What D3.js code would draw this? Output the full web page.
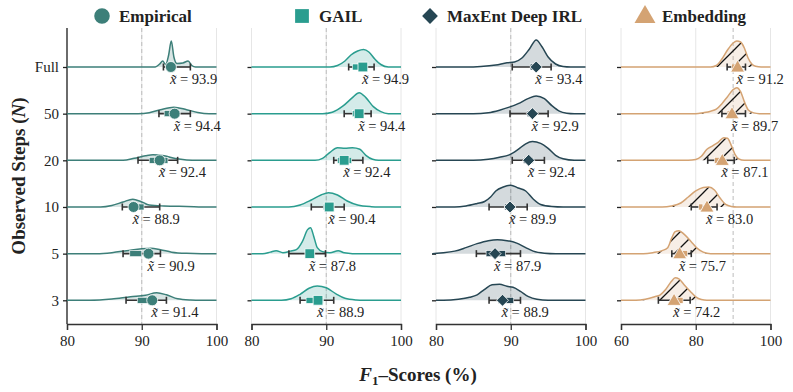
<!DOCTYPE html>
<html>
<head>
<meta charset="utf-8">
<script src="https://cdn.jsdelivr.net/npm/d3@7"></script>
<style>
  body { margin: 0; background: white; }
  text { font-family: "Liberation Serif", "DejaVu Serif", serif; }
</style>
</head>
<body>
<script>
// rows, top to bottom
const rowLabels = ["Full", "50", "20", "10", "5", "3"];
const methods = ["Empirical", "GAIL", "MaxEnt Deep IRL", "Embedding"];
const colors = ["#3d7f79", "#2a9d8f", "#264653", "#d4a373"];
const domains = [[80, 100], [80, 100], [80, 100], [60, 100]];
const tickVals = [[80, 90, 100], [80, 90, 100], [80, 90, 100], [60, 80, 100]];
const refLine = 90;

// medians (label values) and error bars
const medians = [
  [93.9, 94.4, 92.4, 88.9, 90.9, 91.4],
  [94.9, 94.4, 92.4, 90.4, 87.8, 88.9],
  [93.4, 92.9, 92.4, 89.9, 87.9, 88.9],
  [91.2, 89.7, 87.1, 83.0, 75.7, 74.2]
];
const whiskLo = [
  [92.9, 92.3, 89.5, 87.4, 87.5, 87.9],
  [93.0, 92.4, 91.0, 88.0, 85.0, 86.5],
  [90.2, 89.9, 90.2, 87.1, 85.4, 87.1],
  [88.4, 87.0, 83.2, 78.8, 73.6, 70.0]
];
const whiskHi = [
  [96.5, 96.5, 94.8, 92.4, 92.5, 93.3],
  [96.4, 96.0, 94.9, 92.4, 89.9, 91.0],
  [95.4, 95.0, 94.5, 92.2, 91.3, 91.3],
  [93.3, 93.3, 90.3, 85.7, 78.8, 78.5]
];
const boxLo = [
  [93.5, 93.0, 91.0, 88.8, 88.4, 89.4],
  [93.5, 93.5, 91.5, 89.6, 87.2, 87.3],
  [92.6, 92.2, 91.7, 89.2, 86.7, 88.3],
  [89.6, 88.4, 85.0, 80.8, 76.0, 75.0]
];
const boxHi = [
  [94.3, 95.1, 93.5, 90.3, 90.0, 90.9],
  [95.4, 94.7, 93.4, 90.7, 88.3, 89.6],
  [93.9, 93.3, 93.0, 90.5, 89.3, 90.4],
  [91.0, 89.7, 86.4, 81.9, 77.8, 76.6]
];

// density curves: [score, height]
const densEmpirical = [
  [[91.8,0],[92.4,3],[92.8,6],[93.2,2.5],[93.6,12],[93.95,26],[94.3,10],[94.7,3.5],[95.5,4],[96.2,6],[96.7,1.5],[97.2,0]],
  [[89.5,0],[91,1],[92.5,4],[94.3,6.5],[96,4],[97.5,1.2],[99,0]],
  [[87.5,0],[89,2],[90.5,4.5],[91.5,5.5],[93,4.5],[94.5,1.8],[96,0.4],[97.5,0]],
  [[84.5,0],[86,1.5],[87.5,5],[88.8,7.8],[90,5],[91,2],[93,1],[96,0.5],[99,0]],
  [[84,0],[86,1],[88,3],[90,5],[91.2,5.5],[92.5,4],[94,1.5],[96,0.3],[98,0]],
  [[83,0],[86,1.2],[88.5,3.5],[90.5,5],[92,7.5],[93.3,5.5],[94.8,1.5],[96.5,0.3],[98,0]]
];
const densGAIL = [
  [[90.5,0],[91.5,1.5],[92.5,6],[93.3,12],[94.2,16],[95,17.5],[95.7,15],[96.5,8],[97.3,2.5],[98.3,0]],
  [[89.5,0],[90.8,1.5],[92.3,8],[93.5,16],[94.4,21],[95.3,16],[96.3,7],[97.3,2],[98.3,0]],
  [[88.5,0],[89.5,2],[90.5,8],[91.5,12.5],[92.5,12],[93.5,12.5],[94.5,11],[95.3,5],[96.2,1],[97,0]],
  [[85,0],[86.5,2],[88,7],[89.3,12],[90.3,14.3],[91.5,12],[92.8,6],[94.2,2],[96,0.3],[97,0]],
  [[81.5,0],[82.5,1.5],[83.3,3],[84.2,1],[85.2,2.5],[86,4],[86.8,12],[87.5,24],[87.9,26],[88.3,18],[88.8,6],[89.5,2],[90.5,0.8],[91.6,3],[92.4,0.8],[93.5,0]],
  [[84,0],[85.3,1.5],[86.5,6],[87.7,12],[88.8,14.3],[90,12.5],[91.3,6.5],[92.5,2],[94,0.3],[95,0]]
];
const densMaxEnt = [
  [[84,0],[86,0.5],[88,2],[89.5,4.2],[90.5,5],[91.5,9],[92.5,18],[93.4,27],[94.2,20],[95,10],[96,3],[97,0.5],[98,0]],
  [[85,0],[87,1],[88.5,3.5],[89.8,6.5],[91,10],[92.3,15],[93.4,17.7],[94.5,15],[95.5,8],[96.5,2.5],[97.5,0.5],[98.5,0]],
  [[85,0],[87,1],[88.5,3],[89.8,5.5],[91,11],[92,16.5],[92.9,18.7],[94,17],[95,12],[96,5],[97,1.5],[98.5,0]],
  [[82.5,0],[84,1],[85.5,3.5],[86.5,5.5],[87.3,10],[88,16],[89,20],[90,21.7],[91,19],[92,16],[93,8],[94,2.5],[95.5,0.5],[97,0]],
  [[79.5,0],[81,0.8],[82.5,2.5],[84,6],[85.5,10],[87,13],[88.2,14],[89.5,13],[90.8,10.5],[92,6],[93,2.5],[94.5,0.5],[96,0]],
  [[81,0],[83,1],[84.5,3],[85.5,5.5],[86.5,11],[87.5,15.5],[88.5,16],[89.5,14],[90.3,13],[91.3,9],[92.3,4],[93.5,1],[95,0]]
];
const densEmbedding = [
  [[84,0],[85.5,1.5],[87,8],[88.5,17],[90,24],[91,26],[92,25],[93,19],[94,9],[95,3],[96,0.8],[97.5,0]],
  [[80,0],[82,1],[84,2.5],[85.5,4.5],[87,10],[88.5,17],[90,24],[91,26],[92,22],[93,12],[94,4],[95.5,0.8],[97,0]],
  [[78,0],[80,0.8],[81.5,4],[83,11],[84.5,14.5],[86,18],[87.5,22.5],[88.5,22],[89.5,15],[90.5,6],[91.5,1.5],[93,0]],
  [[71,0],[73.5,1],[76,4],[78,10],[80,16],[82,19.5],[83.5,20],[85,17],[86.5,9],[88,2.5],[89.5,0.5],[91,0]],
  [[66,0],[68.5,1],[71,3],[72.5,6],[73.5,15],[74.5,22],[75.5,23],[77,19],[79,11],[80.5,5],[82,1.5],[84,0]],
  [[64,0],[66.5,1],[69,3.5],[70.5,5.5],[72,11],[73.5,19],[74.5,22.5],[75.5,21.5],[77,15],[78.5,9],[80,3.5],[81.5,0.8],[83,0]]
];
const densities = [densEmpirical, densGAIL, densMaxEnt, densEmbedding];

function main(){
    const width = 793, height = 392;
    const panelLeft = [67, 251.5, 436, 621];
    const panelW = 149.5;
    const top = 28, axisY = 324;

    const svg = d3.select("body").append("svg")
        .attr("width", width).attr("height", height)
        .style("background", "white");

    const defs = svg.append("defs");
    const hatch = defs.append("pattern")
        .attr("id", "hatch")
        .attr("patternUnits", "userSpaceOnUse")
        .attr("width", 16).attr("height", 16);
    hatch.append("path")
        .attr("d", "M-4,4 L4,-4 M0,16 L16,0 M12,20 L20,12")
        .attr("stroke", "#111").attr("stroke-width", 1.3);

    const y = d3.scaleLinear().domain([0, rowLabels.length - 1]).range([67, 300.3]);
    const h = d3.scaleLinear().domain([0, 1]).range([0, 1]);

    // diamond = square turned by 45 degrees (as matplotlib's "D")
    const markerSym = [d3.symbolCircle, d3.symbolSquare, d3.symbolSquare, d3.symbolTriangle];
    const markerRot = [0, 0, 45, 0];
    const markerSize = [95, 95, 72, 85];
    const legendSize = [190, 190, 125, 190];

    methods.forEach((m, k) => {
        const x = d3.scaleLinear().domain(domains[k]).range([panelLeft[k], panelLeft[k] + panelW]);
        const g = svg.append("g");
        const col = colors[k];

        // grid
        g.selectAll(".grid").data(tickVals[k]).enter().append("line")
            .attr("x1", d => x(d)).attr("x2", d => x(d))
            .attr("y1", top).attr("y2", axisY)
            .attr("stroke", "#e6e6e6").attr("stroke-width", 1);
        g.append("line")
            .attr("x1", x(refLine)).attr("x2", x(refLine))
            .attr("y1", top).attr("y2", axisY)
            .attr("stroke", "#bdbdbd").attr("stroke-width", 1)
            .attr("stroke-dasharray", "4,3");

        // bottom axis
        const ax = g.append("g")
            .attr("transform", `translate(0,${axisY})`)
            .call(d3.axisBottom(x).tickValues(tickVals[k]).tickSize(6).tickPadding(5));
        ax.select(".domain").attr("stroke", "#333").attr("stroke-width", 1.3);
        ax.selectAll(".tick line").attr("stroke", "#333").attr("stroke-width", 1.3);
        ax.selectAll("text").attr("font-size", 15).attr("fill", "#222")
            .style("font-family", "Liberation Serif");

        // left axis
        const ay = g.append("g")
            .attr("transform", `translate(${panelLeft[k]},0)`)
            .call(d3.axisLeft(d3.scalePoint().domain(rowLabels).range([67, 300.3]))
                .tickSize(4).tickPadding(4));
        ay.selectAll(".tick line").attr("stroke", "#222").attr("stroke-width", 1.3);
        if (k === 0) {
            ay.select(".domain").attr("stroke", "#222").attr("stroke-width", 1.3)
                .attr("d", `M0,${top}V${axisY}`);
            ay.selectAll("text").attr("font-size", 15).attr("fill", "#222")
                .style("font-family", "Liberation Serif");
        } else {
            ay.select(".domain").remove();
            ay.selectAll("text").remove();
        }

        rowLabels.forEach((r, i) => {
            const base = y(i);
            const pts = [[domains[k][0], 0]].concat(densities[k][i], [[domains[k][1], 0]]);
            const area = d3.area()
                .x(d => x(d[0])).y0(base).y1(d => base - h(d[1]))
                .curve(d3.curveMonotoneX);
            const line = d3.line()
                .x(d => x(d[0])).y(d => base - h(d[1]))
                .curve(d3.curveMonotoneX);

            g.append("path").attr("d", area(pts))
                .attr("fill", col).attr("fill-opacity", k === 3 ? 0.18 : 0.2);
            if (k === 3) {
                g.append("path").attr("d", area(pts)).attr("fill", "url(#hatch)");
            }
            g.append("path").attr("d", line(pts))
                .attr("fill", "none").attr("stroke", col).attr("stroke-width", 1.5);

            // error bar
            const lo = x(whiskLo[k][i]), hi = x(whiskHi[k][i]);
            g.append("line").attr("x1", lo).attr("x2", hi).attr("y1", base).attr("y2", base)
                .attr("stroke", "#333").attr("stroke-width", 1.6);
            [lo, hi].forEach(c => g.append("line")
                .attr("x1", c).attr("x2", c).attr("y1", base - 3.5).attr("y2", base + 3.5)
                .attr("stroke", "#333").attr("stroke-width", 1.6));
            g.append("rect")
                .attr("x", x(boxLo[k][i])).attr("width", x(boxHi[k][i]) - x(boxLo[k][i]))
                .attr("y", base - 3).attr("height", 6)
                .attr("fill", col).attr("stroke", "white").attr("stroke-width", 0.6);

            // median marker
            g.append("path")
                .attr("d", d3.symbol().type(markerSym[k]).size(markerSize[k])())
                .attr("transform", `translate(${x(medians[k][i])},${base + (k === 3 ? 1 : 0)}) rotate(${markerRot[k]})`)
                .attr("fill", col).attr("stroke", "white").attr("stroke-width", 0.8);

            // median label
            const t = g.append("text")
                .attr("x", x(medians[k][i]) - 1).attr("y", base + 17)
                .attr("font-size", 14.5).attr("fill", "#222");
            t.append("tspan").attr("font-style", "italic").text("x\u0303");
            t.append("tspan").text(" = " + medians[k][i].toFixed(1));
        });

        // legend
        const cx = [102, 302, 430, 645][k];
        svg.append("path")
            .attr("d", d3.symbol().type(markerSym[k]).size(legendSize[k])())
            .attr("transform", `translate(${cx},${k === 3 ? 17 : 16}) rotate(${markerRot[k]})`)
            .attr("fill", col);
        svg.append("text").attr("x", cx + 17).attr("y", 22)
            .attr("font-size", 17).attr("font-weight", "bold").attr("fill", "#222")
            .text(m);
    });

    // axis titles
    const xt = svg.append("text")
        .attr("x", 418).attr("y", 381).attr("text-anchor", "middle")
        .attr("font-size", 19).attr("font-weight", "bold").attr("fill", "#222");
    xt.append("tspan").attr("font-style", "italic").text("F");
    xt.append("tspan").attr("font-size", 13).attr("dy", 4).text("1");
    xt.append("tspan").attr("dy", -4).text("\u2013Scores (%)");

    const yt = svg.append("text")
        .attr("transform", "translate(25,176) rotate(-90)")
        .attr("text-anchor", "middle")
        .attr("font-size", 19).attr("font-weight", "bold").attr("fill", "#222");
    yt.append("tspan").text("Observed Steps (");
    yt.append("tspan").attr("font-style", "italic").text("N");
    yt.append("tspan").text(")");
}

main()
</script>
</body>
</html>
